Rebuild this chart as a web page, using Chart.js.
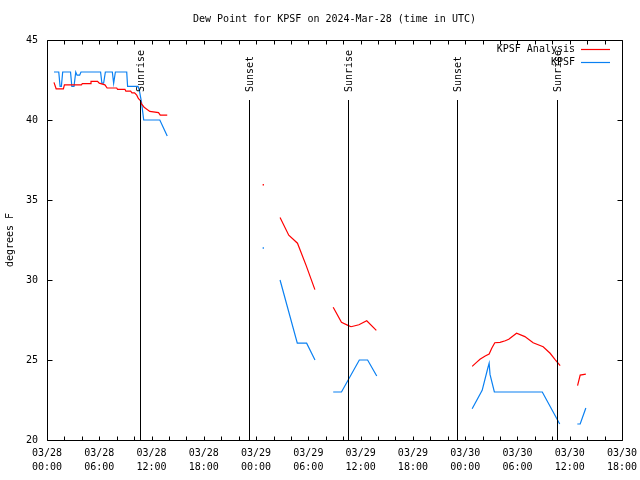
<!DOCTYPE html>
<html><head><meta charset="utf-8">
<script src="https://cdn.jsdelivr.net/npm/chart.js@4.4.1/dist/chart.umd.min.js"></script>
<style>html,body{margin:0;padding:0;background:#fff;}canvas{display:block;}</style>
</head><body>
<canvas id="c" width="640" height="480"></canvas>
<script>
// hours since 03/28 00:00 UTC; null = gap in the record
const analysisHours = [0.80,1.05,1.88,2.0,3.95,4.05,4.95,5.05,5.8,6.0,6.65,6.9,8.0,8.1,8.95,9.05,9.6,9.75,10.05,10.3,10.5,10.7,10.85,11.15,11.8,12.8,13.0,13.8,
  19.0, 24.83, 25.8,
  26.75,27.75,28.75,29.75,30.75, 31.8,
  32.85,33.8,34.6,34.9,35.8,36.7,37.8, 43.0,
  48.8,49.3,49.7,50.3,50.75,51.05,51.4,52.0,52.6,53.0,53.9,54.85,55.8,56.95,57.75,58.3,58.9, 59.9,
  60.9,61.2,61.85];
const analysisDewF = [42.35,41.95,41.95,42.2,42.2,42.27,42.27,42.42,42.42,42.3,42.2,42.0,42.0,41.92,41.92,41.8,41.8,41.7,41.7,41.55,41.33,41.23,41.0,40.8,40.54,40.46,40.3,40.3,
  null, 35.95, null,
  33.9,32.8,32.3,30.9,29.4, null,
  28.3,27.35,27.15,27.08,27.2,27.45,26.85, null,
  24.6,24.85,25.05,25.25,25.37,25.73,26.08,26.1,26.2,26.3,26.67,26.46,26.08,25.83,25.42,25.04,24.65, null,
  23.4,24.06,24.12];
const obsHours = [0.80,1.35,1.5,1.65,1.8,2.7,2.85,3.1,3.3,3.45,3.75,3.9,6.15,6.3,6.5,6.7,7.5,7.65,7.85,9.15,9.25,10.45,10.6,10.85,11.1,12.95,13.8,
  19.0, 24.83, 25.8,
  26.75,28.73,29.8,30.76, 31.8,
  32.85,33.8,35.85,36.8,37.85, 43.0,
  48.8,49.95,50.6,50.75,50.85,51.35,56.85,58.85, 59.9,
  60.87,61.2,61.85];
const obsDewF = [43.0,43.0,42.1,42.1,43.0,43.0,42.1,42.1,43.0,42.8,42.8,43.0,43.0,42.3,42.3,43.0,43.0,42.3,43.0,43.0,42.1,42.1,41.85,41.1,40.0,40.0,39.0,
  null, 32.0, null,
  30.0,26.05,26.05,25.0, null,
  23.0,23.0,25.0,25.0,24.0, null,
  21.95,23.1,24.5,24.8,24.1,23.0,23.0,21.0, null,
  21.0,21.0,22.0];
const sunHours = [10.67, 23.19, 34.58, 47.06, 58.57];
const sunLabels = ['Sunrise','Sunset','Sunrise','Sunset','Sunrise'];
const xTickDates = ['03/28','03/28','03/28','03/28','03/29','03/29','03/29','03/29','03/30','03/30','03/30','03/30'];
const xTickTimes = ['00:00','06:00','12:00','18:00','00:00','06:00','12:00','18:00','00:00','06:00','12:00','18:00'];
const seriesNames = ['KPSF Analysis','KPSF'];
const seriesColors = ['#ff0000','#0a80f2'];

const FONT = "'DejaVu Sans Mono', 'Liberation Mono', monospace";
Chart.defaults.font.family = FONT;
Chart.defaults.font.size = 10;
Chart.defaults.color = '#000';

function pts(hs, vs){ return hs.map((h,i)=>({x:h, y:vs[i]})); }
function isolatedRadius(ctx){
  const d = ctx.dataset.data, i = ctx.dataIndex;
  if (!d[i] || d[i].y == null) return 0;
  const p = d[i-1], n = d[i+1];
  return ((!p || p.y == null) && (!n || n.y == null)) ? 1 : 0;
}

const gnuPlugin = {
  id: 'gnu',
  afterDraw(chart){
    const {ctx, chartArea:a, scales:{x, y}} = chart;
    ctx.save();
    ctx.strokeStyle = '#000'; ctx.lineWidth = 1;
    const L = Math.round(a.left)+0.5, R = Math.round(a.right)+0.5, T = Math.round(a.top)+0.5, B = Math.round(a.bottom)+0.5;
    ctx.beginPath();
    ctx.moveTo(L,T); ctx.lineTo(R,T); ctx.lineTo(R,B); ctx.lineTo(L,B); ctx.closePath();
    x.ticks.forEach(t => {
      const px = Math.round(x.getPixelForValue(t.value))+0.5;
      ctx.moveTo(px,B); ctx.lineTo(px,B-4);
      ctx.moveTo(px,T); ctx.lineTo(px,T+4);
    });
    y.ticks.forEach(t => {
      const py = Math.round(y.getPixelForValue(t.value))+0.5;
      ctx.moveTo(L,py); ctx.lineTo(L+5,py);
      ctx.moveTo(R,py); ctx.lineTo(R-5,py);
    });
    ctx.stroke();
    const h = a.bottom - a.top;
    sunHours.forEach((s,i) => {
      const px = Math.round(x.getPixelForValue(s))+0.5;
      ctx.beginPath();
      ctx.moveTo(px, B); ctx.lineTo(px, Math.round(a.bottom - 0.85*h));
      ctx.stroke();
      ctx.save();
      ctx.translate(px+1, a.bottom - 0.87*h);
      ctx.rotate(-Math.PI/2);
      ctx.fillStyle = '#000';
      ctx.font = '10px ' + FONT;
      ctx.textAlign = 'left'; ctx.textBaseline = 'middle';
      ctx.fillText(sunLabels[i], 0, 0);
      ctx.restore();
    });
    ctx.font = '10px ' + FONT;
    ctx.textAlign = 'right'; ctx.textBaseline = 'middle'; ctx.fillStyle = '#000';
    ctx.lineWidth = 1.2;
    const rows = [49, 62];
    chart.data.datasets.forEach((ds,i) => {
      ctx.fillText(ds.label, 575, rows[i]);
      ctx.strokeStyle = ds.borderColor;
      ctx.beginPath(); ctx.moveTo(581, rows[i]+0.5); ctx.lineTo(610, rows[i]+0.5); ctx.stroke();
    });
    ctx.restore();
  }
};

new Chart(document.getElementById('c'), {
  type: 'line',
  data: {
    datasets: [
      {label: seriesNames[0], data: pts(analysisHours, analysisDewF), borderColor: seriesColors[0], backgroundColor: seriesColors[0], borderWidth: 1.2, pointRadius: isolatedRadius, pointStyle: 'rect', pointBorderWidth: 0, spanGaps: false, tension: 0},
      {label: seriesNames[1], data: pts(obsHours, obsDewF), borderColor: seriesColors[1], backgroundColor: seriesColors[1], borderWidth: 1.2, pointRadius: isolatedRadius, pointStyle: 'rect', pointBorderWidth: 0, spanGaps: false, tension: 0}
    ]
  },
  options: {
    responsive: false, animation: false, events: [],
    parsing: false,
    layout: {padding: {left: 0, right: 18, top: 0, bottom: 0}},
    plugins: {
      legend: {display: false}, tooltip: {enabled: false},
      title: {display: true, fullSize: false, text: 'Dew Point for KPSF on 2024-Mar-28 (time in UTC)', font: {size: 10, weight: 'normal', lineHeight: 1.2}, padding: {top: 13, bottom: 15}}
    },
    scales: {
      x: {
        type: 'linear', min: 0, max: 66,
        grid: {display: false, drawTicks: false}, border: {display: false},
        ticks: {stepSize: 2, autoSkip: false, maxRotation: 0, minRotation: 0, padding: 6,
          font: {size: 10, lineHeight: 1.4},
          callback: v => (v % 6 === 0) ? [xTickDates[v/6], xTickTimes[v/6]] : ''},
        afterFit: s => { s.height = 40; s.paddingLeft = 0; s.paddingRight = 0; }
      },
      y: {
        type: 'linear', min: 20, max: 45,
        grid: {display: false, drawTicks: false}, border: {display: false},
        ticks: {stepSize: 5, padding: 9},
        title: {display: true, text: 'degrees F', font: {size: 10}, padding: {top: 4, bottom: 4}},
        afterFit: s => { s.width = 47; s.paddingTop = 0; s.paddingBottom = 0; }
      }
    }
  },
  plugins: [gnuPlugin]
});
</script>
</body></html>
